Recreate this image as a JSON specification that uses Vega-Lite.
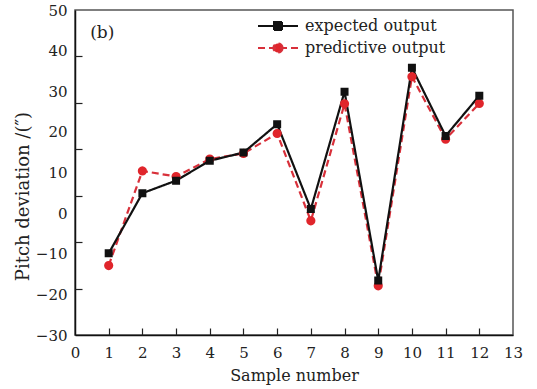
{
  "$schema": "https://vega.github.io/schema/vega-lite/v6.json",
  "width": 438,
  "height": 325,
  "autosize": "none",
  "padding": {"left": 75, "top": 10, "right": 24, "bottom": 54},
  "background": "white",
  "config": {
    "view": {"stroke": "#555555", "strokeWidth": 1.5},
    "font": "DejaVu Serif",
    "axis": {
      "grid": false,
      "labelFont": "DejaVu Serif",
      "titleFont": "DejaVu Serif",
      "labelColor": "#222222",
      "titleColor": "#222222",
      "labelFontSize": 15,
      "titleFontSize": 16,
      "titleFontWeight": "normal",
      "domainColor": "#111111",
      "domainWidth": 1.5,
      "tickColor": "#222222",
      "tickWidth": 1.2,
      "labelOverlap": false
    }
  },
  "datasets": {
    "series": [
      {"sample": 1, "series": "predictive output", "value": -12.9},
      {"sample": 2, "series": "predictive output", "value": 10.4},
      {"sample": 3, "series": "predictive output", "value": 9.0},
      {"sample": 4, "series": "predictive output", "value": 13.3},
      {"sample": 5, "series": "predictive output", "value": 14.7},
      {"sample": 6, "series": "predictive output", "value": 19.6},
      {"sample": 7, "series": "predictive output", "value": -1.9},
      {"sample": 8, "series": "predictive output", "value": 26.9},
      {"sample": 9, "series": "predictive output", "value": -17.9},
      {"sample": 10, "series": "predictive output", "value": 33.6},
      {"sample": 11, "series": "predictive output", "value": 18.2},
      {"sample": 12, "series": "predictive output", "value": 27.0},
      {"sample": 1, "series": "expected output", "value": -9.9},
      {"sample": 2, "series": "expected output", "value": 4.9},
      {"sample": 3, "series": "expected output", "value": 8.0},
      {"sample": 4, "series": "expected output", "value": 12.9},
      {"sample": 5, "series": "expected output", "value": 14.9},
      {"sample": 6, "series": "expected output", "value": 21.9},
      {"sample": 7, "series": "expected output", "value": 1.0},
      {"sample": 8, "series": "expected output", "value": 29.9},
      {"sample": 9, "series": "expected output", "value": -16.6},
      {"sample": 10, "series": "expected output", "value": 35.8},
      {"sample": 11, "series": "expected output", "value": 19.0},
      {"sample": 12, "series": "expected output", "value": 28.9}
    ],
    "note": [{"label": "(b)", "x": 0.45, "y": 44.3}]
  },
  "layer": [
    {
      "data": {"name": "series"},
      "layer": [
        {
          "mark": {"type": "line", "strokeWidth": 2.2},
          "encoding": {
            "x": {
              "field": "sample", "type": "quantitative",
              "scale": {"domain": [0, 13], "nice": false, "zero": false},
              "axis": {
                "orient": "bottom",
                "values": [0, 1, 2, 3, 4, 5, 6, 7, 8, 9, 10, 11, 12, 13],
                "ticks": false, "labelPadding": 10, "labelFlush": false, "labelOverlap": false,
                "title": "Sample number", "titlePadding": 7
              }
            },
            "y": {
              "field": "value", "type": "quantitative",
              "scale": {"domain": [-30, 50], "nice": false, "zero": false},
              "axis": {
                "orient": "left",
                "values": [50, 40, 30, 20, 10, 0, -10, -20, -30],
                "ticks": false, "labelPadding": 8, "labelFlush": false, "labelOverlap": false,
                "title": "Pitch deviation /(″)", "titleFontSize": 18, "titlePadding": 3, "titleY": 186
              }
            },
            "color": {
              "field": "series", "type": "nominal",
              "scale": {"domain": ["expected output", "predictive output"], "range": ["#111111", "#d8303a"]},
              "legend": {
                "orient": "none", "legendX": 192, "legendY": 5, "title": null,
                "symbolSize": 400, "labelOffset": 16, "labelFontSize": 16,
                "labelFont": "DejaVu Serif", "labelColor": "#222222", "padding": 0, "rowPadding": 3,
                "symbolStrokeWidth": 2
              }
            },
            "strokeDash": {
              "field": "series", "type": "nominal",
              "scale": {"domain": ["expected output", "predictive output"], "range": [[1, 0], [7, 4]]},
              "legend": {
                "orient": "none", "legendX": 192, "legendY": 5, "title": null
              }
            }
          }
        },
        {
          "mark": {"type": "point", "filled": true, "opacity": 1, "size": 400},
          "encoding": {
            "x": {
              "field": "sample", "type": "quantitative",
              "scale": {"domain": [0, 13], "nice": false, "zero": false},
              "axis": {
                "orient": "bottom",
                "values": [0, 1, 2, 3, 4, 5, 6, 7, 8, 9, 10, 11, 12, 13],
                "ticks": false, "labelPadding": 10, "labelFlush": false, "labelOverlap": false,
                "title": "Sample number", "titlePadding": 7
              }
            },
            "y": {
              "field": "value", "type": "quantitative",
              "scale": {"domain": [-30, 50], "nice": false, "zero": false},
              "axis": {
                "orient": "left",
                "values": [50, 40, 30, 20, 10, 0, -10, -20, -30],
                "ticks": false, "labelPadding": 8, "labelFlush": false, "labelOverlap": false,
                "title": "Pitch deviation /(″)", "titleFontSize": 18, "titlePadding": 3, "titleY": 186
              }
            },
            "shape": {
              "field": "series", "type": "nominal",
              "scale": {
                "domain": ["expected output", "predictive output"],
                "range": [
                  "M-2,0L2,0M-0.4,-0.4L0.4,-0.4L0.4,0.4L-0.4,0.4Z",
                  "M-2,0L2,0M0.46,0L0.425,0.176L0.325,0.325L0.176,0.425L0,0.46L-0.176,0.425L-0.325,0.325L-0.425,0.176L-0.46,0L-0.425,-0.176L-0.325,-0.325L-0.176,-0.425L0,-0.46L0.176,-0.425L0.325,-0.325L0.425,-0.176Z"
                ]
              },
              "legend": null
            },
            "fill": {
              "field": "series", "type": "nominal",
              "scale": {"domain": ["expected output", "predictive output"], "range": ["#111111", "#e0252b"]},
              "legend": null
            }
          }
        }
      ]
    },
    {
      "data": {"name": "note"},
      "mark": {"type": "text", "align": "left", "baseline": "middle", "fontSize": 17, "font": "DejaVu Serif", "color": "#222222"},
      "encoding": {
        "x": {
          "field": "x", "type": "quantitative",
          "scale": {"domain": [0, 13], "nice": false, "zero": false},
          "axis": {"orient": "bottom", "values": [1, 2, 3, 4, 5, 6, 7, 8, 9, 10, 11, 12], "labels": false, "domain": false, "tickSize": -7, "title": null}
        },
        "y": {
          "field": "y", "type": "quantitative",
          "scale": {"domain": [-30, 50], "nice": false, "zero": false},
          "axis": {"orient": "left", "values": [38.571, 27.143, 15.714, 4.286, -7.143, -18.571], "labels": false, "domain": false, "tickSize": -7, "title": null}
        },
        "text": {"field": "label"}
      }
    }
  ],
  "resolve": {"axis": {"x": "independent", "y": "independent"}}
}
